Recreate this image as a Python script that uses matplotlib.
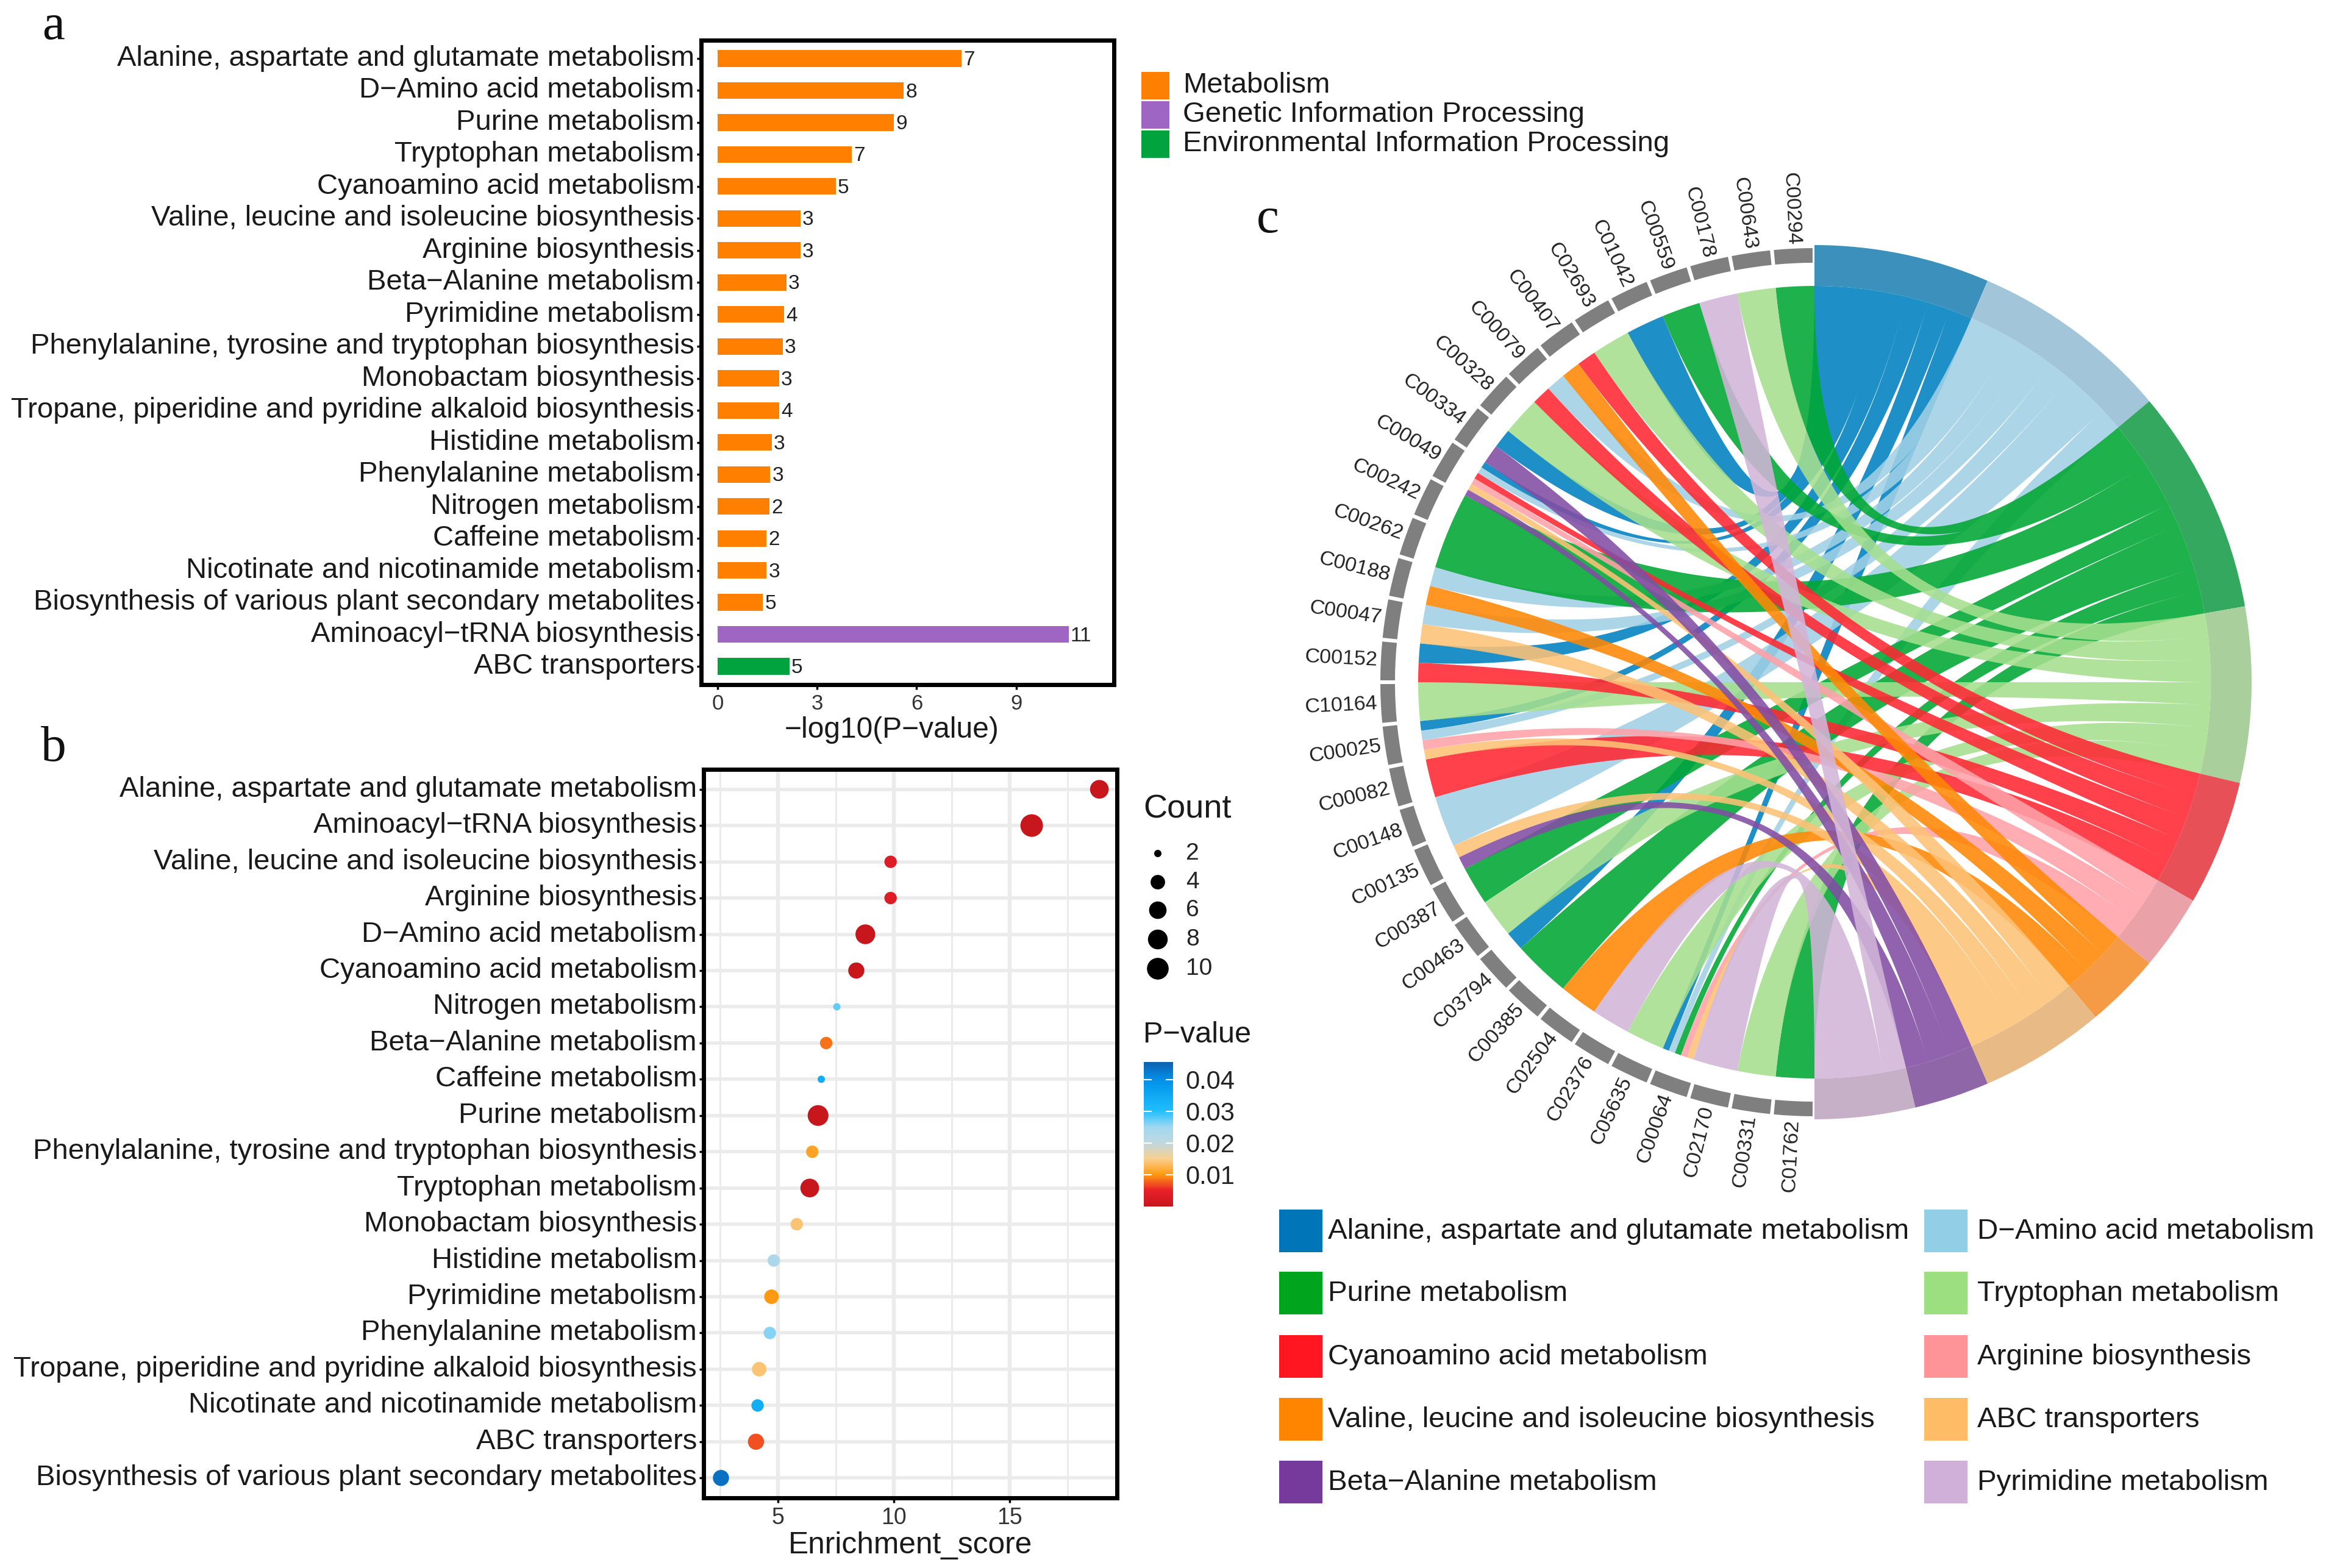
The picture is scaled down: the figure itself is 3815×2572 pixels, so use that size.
import numpy as np
import matplotlib
matplotlib.use('Agg')
import matplotlib.pyplot as plt
from matplotlib.cm import ScalarMappable
from matplotlib.colors import LinearSegmentedColormap, Normalize
from matplotlib.patches import PathPatch, Rectangle, Wedge
from matplotlib.path import Path

plt.rcParams['font.family'] = ['Liberation Sans', 'DejaVu Sans']

W, H = 3815, 2572

# panel a
bar_names = ['Alanine, aspartate and glutamate metabolism', 'D\u2212Amino acid metabolism',
             'Purine metabolism', 'Tryptophan metabolism', 'Cyanoamino acid metabolism',
             'Valine, leucine and isoleucine biosynthesis', 'Arginine biosynthesis',
             'Beta\u2212Alanine metabolism', 'Pyrimidine metabolism',
             'Phenylalanine, tyrosine and tryptophan biosynthesis', 'Monobactam biosynthesis',
             'Tropane, piperidine and pyridine alkaloid biosynthesis', 'Histidine metabolism',
             'Phenylalanine metabolism', 'Nitrogen metabolism', 'Caffeine metabolism',
             'Nicotinate and nicotinamide metabolism',
             'Biosynthesis of various plant secondary metabolites',
             'Aminoacyl\u2212tRNA biosynthesis', 'ABC transporters']
bar_values = [7.35, 5.61, 5.32, 4.05, 3.56, 2.49, 2.49, 2.07, 2.00, 1.96,
              1.85, 1.85, 1.63, 1.58, 1.56, 1.47, 1.47, 1.36, 10.58, 2.16]
bar_counts = [7, 8, 9, 7, 5, 3, 3, 3, 4, 3, 3, 4, 3, 3, 2, 2, 3, 5, 11, 5]
bar_classes = ['Metabolism'] * 18 + ['Genetic Information Processing', 'Environmental Information Processing']
class_colors = {'Metabolism': '#FF8000',
                'Genetic Information Processing': '#9E66C2',
                'Environmental Information Processing': '#00A33E'}

# panel b
dot_names = ['Alanine, aspartate and glutamate metabolism', 'Aminoacyl\u2212tRNA biosynthesis',
             'Valine, leucine and isoleucine biosynthesis', 'Arginine biosynthesis',
             'D\u2212Amino acid metabolism', 'Cyanoamino acid metabolism', 'Nitrogen metabolism',
             'Beta\u2212Alanine metabolism', 'Caffeine metabolism', 'Purine metabolism',
             'Phenylalanine, tyrosine and tryptophan biosynthesis', 'Tryptophan metabolism',
             'Monobactam biosynthesis', 'Histidine metabolism', 'Pyrimidine metabolism',
             'Phenylalanine metabolism', 'Tropane, piperidine and pyridine alkaloid biosynthesis',
             'Nicotinate and nicotinamide metabolism', 'ABC transporters',
             'Biosynthesis of various plant secondary metabolites']
dot_scores = [18.87, 15.95, 9.86, 9.86, 8.77, 8.38, 7.54, 7.08, 6.87, 6.73,
              6.48, 6.37, 5.81, 4.82, 4.72, 4.65, 4.19, 4.12, 4.05, 2.54]
dot_counts = [7, 11, 3, 3, 8, 5, 2, 3, 2, 9, 3, 7, 3, 3, 4, 3, 4, 3, 5, 5]
dot_pvalues = [0.0, 0.0, 0.0032, 0.0032, 0.0, 0.0003, 0.0275, 0.0085, 0.034, 0.0,
               0.011, 0.0001, 0.014, 0.023, 0.010, 0.026, 0.014, 0.034, 0.007, 0.0437]
count_legend = [2, 4, 6, 8, 10]

# panel c
pathway_keys = ['ala', 'dam', 'pur', 'trp', 'cya', 'arg', 'val', 'abc', 'bal', 'pyr']
pathway_names = ['Alanine, aspartate and glutamate metabolism', 'D\u2212Amino acid metabolism',
                 'Purine metabolism', 'Tryptophan metabolism', 'Cyanoamino acid metabolism',
                 'Arginine biosynthesis', 'Valine, leucine and isoleucine biosynthesis',
                 'ABC transporters', 'Beta\u2212Alanine metabolism', 'Pyrimidine metabolism']
legend_colors = ['#0075B8', '#92CFE6', '#00A51E', '#9CDF80', '#FF1620',
                 '#FF9498', '#FF8400', '#FFBC66', '#753A9C', '#D0B0D8']
ribbon_colors = ['#0081C0', '#A1D0E5', '#00A732', '#A5DF8F', '#FF2732',
                 '#FFA1A8', '#FF8805', '#FDC276', '#824DA4', '#D2B5D9']
band_colors = ['#3C91BC', '#A2C5D9', '#34A85E', '#A9CF9C', '#E85058',
               '#EAA2A8', '#F59A45', '#E8BB86', '#8F66A8', '#C5B0C8']
# compounds from the bottom of the circle going clockwise, with the pathways each one links to
compound_ids = ['C01762', 'C00331', 'C02170', 'C00064', 'C05635', 'C02376', 'C02504', 'C00385',
                'C03794', 'C00463', 'C00387', 'C00135', 'C00148', 'C00082', 'C00025', 'C10164',
                'C00152', 'C00047', 'C00188', 'C00262', 'C00242', 'C00049', 'C00334', 'C00328',
                'C00079', 'C00407', 'C02693', 'C01042', 'C00559', 'C00178', 'C00643', 'C00294']
compound_links = [['pur'], ['trp'], ['pyr'], ['pyr', 'abc', 'arg', 'pur', 'dam', 'ala'], ['trp'], ['pyr'],
                  ['val'], ['pur'], ['pur', 'ala'], ['trp'], ['pur'], ['bal', 'abc', 'dam'], ['dam'],
                  ['cya'], ['abc', 'arg', 'dam', 'ala'], ['trp'], ['cya', 'ala'], ['abc', 'dam'],
                  ['val', 'dam'], ['pur'], ['pur'], ['bal', 'abc', 'arg', 'cya', 'dam', 'ala'],
                  ['bal', 'ala'], ['trp'], ['cya', 'dam'], ['val', 'cya'], ['trp'], ['ala'], ['pur'],
                  ['pyr'], ['trp'], ['pur']]

fig = plt.figure(figsize=(W / 100, H / 100), dpi=100)


def px_axes(left, top, right, bottom):
    return fig.add_axes([left / W, 1 - bottom / H, (right - left) / W, (bottom - top) / H])


def dot_size(count):
    d = 12 + 25 * np.sqrt((np.asarray(count) - 2) / 9)
    return (d * 0.72) ** 2


def polar(angle, r):
    # angle is clockwise from twelve o'clock, in degrees
    a = np.radians(angle)
    return r * np.sin(a), r * np.cos(a)


def curve(a0, a1, r):
    # quadratic bezier with the control point in the centre
    t = np.linspace(0, 1, 101)
    x0, y0 = polar(a0, r)
    x1, y1 = polar(a1, r)
    return np.column_stack([(1 - t) ** 2 * x0 + t ** 2 * x1, (1 - t) ** 2 * y0 + t ** 2 * y1])


def arc(a0, a1, r):
    x, y = polar(np.linspace(a0, a1, 12), r)
    return np.column_stack([x, y])


def row_labels(axis, names, rows):
    # row names drawn by hand so their height can be set against the tick
    axis.set_yticks(rows)
    axis.set_yticklabels([])
    for y, name in zip(rows, names):
        axis.annotate(name, xy=(0, y), xycoords=axis.get_yaxis_transform(), xytext=(-11, 0),
                      textcoords='offset pixels', ha='right', va='center', fontsize=34,
                      color='#1a1a1a', annotation_clip=False)


# overlay in pixel coordinates for legends and letters
over = fig.add_axes([0, 0, 1, 1])
over.set_xlim(0, W)
over.set_ylim(H, 0)
over.axis('off')

# a: bars
ax = px_axes(1150, 66, 1827, 1123)
ypos = np.arange(len(bar_names))
ax.barh(ypos, bar_values, height=0.52, color=[class_colors[c] for c in bar_classes])
for y, v, c in zip(ypos, bar_values, bar_counts):
    ax.text(v + 0.06, y + 0.05, str(c), ha='left', va='center', fontsize=24, color='#222222')
ax.set_xlim(-0.5, 11.95)
ax.set_ylim(len(bar_names) - 0.43, -0.57)
row_labels(ax, bar_names, ypos)
ax.set_xticks([0, 3, 6, 9])
ax.tick_params(axis='x', labelsize=25, length=6, width=2.5, pad=5, labelcolor='#333333')
ax.tick_params(axis='y', length=5, width=2.5, pad=3)
ax.set_xlabel('\u2212log10(P\u2212value)', fontsize=34.5, labelpad=3, color='#1a1a1a')
ax.xaxis.label.set_x(0.461)
for s in ax.spines.values():
    s.set_linewidth(5)

# a: class legend
for y0, name in zip([118, 166, 214], class_colors):
    over.add_patch(Rectangle((1872, y0), 46, 45, color=class_colors[name], lw=0))
    over.text(1940, y0 + 22, name, fontsize=34, va='center', color='#1a1a1a')

# b: dots
bx = px_axes(1154, 1262, 1832, 2457)
ypos = np.arange(len(dot_names))
cmap = LinearSegmentedColormap.from_list('pval', [
    (0.0, '#C8161D'), (0.11, '#E8202A'), (0.22, '#FF9A10'), (0.33, '#F8D090'),
    (0.44, '#C0D8E0'), (0.55, '#A0D8F0'), (0.66, '#20C0FF'), (0.88, '#0090E8'), (1.0, '#1060B0')])
norm = Normalize(0, 0.0455)
bx.set_axisbelow(True)
bx.set_xticks([5, 10, 15])
bx.set_xticks([2.5, 7.5, 12.5, 17.5], minor=True)
bx.grid(True, which='major', axis='x', color='#EBEBEB', lw=4.6)
bx.grid(True, which='major', axis='y', color='#EBEBEB', lw=4)
bx.grid(True, which='minor', axis='x', color='#EBEBEB', lw=2.2)
bx.scatter(dot_scores, ypos, s=dot_size(dot_counts), c=dot_pvalues, cmap=cmap, norm=norm, lw=0, zorder=3)
bx.set_xlim(1.79, 19.63)
bx.set_ylim(len(dot_names) - 0.45, -0.55)
row_labels(bx, dot_names, ypos)
bx.tick_params(axis='x', which='major', labelsize=27, length=6, width=2.5, pad=5, labelcolor='#333333')
bx.tick_params(axis='x', which='minor', length=0)
bx.tick_params(axis='y', length=5, width=2.5, pad=3)
bx.set_xlabel('Enrichment_score', fontsize=35.7, labelpad=3, color='#1a1a1a')
for s in bx.spines.values():
    s.set_linewidth(5)

# b: size legend and colour bar
over.text(1875, 1328, 'Count', fontsize=39, va='center', color='#1a1a1a')
legend_y = [1400, 1447, 1493, 1541, 1589]
over.scatter([1899] * len(count_legend), legend_y, s=dot_size(count_legend), c='black', lw=0)
for y, c in zip(legend_y, count_legend):
    over.text(1945, y, str(c), fontsize=28, va='center', color='#222222')
over.text(1875, 1697, 'P\u2212value', fontsize=35, va='center', color='#1a1a1a')
cax = px_axes(1876, 1742, 1924, 1979)
cb = fig.colorbar(ScalarMappable(norm=norm, cmap=cmap), cax=cax)
cb.outline.set_visible(False)
cb.set_ticks([0.01, 0.02, 0.03, 0.04])
cb.set_ticklabels(['0.01', '0.02', '0.03', '0.04'])
cb.ax.tick_params(labelsize=30, length=9, width=1.5, color='white', direction='in',
                  left=True, right=True, pad=15, labelcolor='#222222')

# c: chord diagram, one data unit is one pixel
R_OUT, R_IN, R_BLOCK_OUT, R_BLOCK_IN = 717, 650, 712, 688
cx = px_axes(2976 - 880, 1119 - 880, 2976 + 880, 1119 + 880)
cx.set_xlim(-880, 880)
cx.set_ylim(-880, 880)
cx.axis('off')

totals = [sum(k in links for links in compound_links) for k in pathway_keys]
unit = 180 / sum(totals)
starts = np.concatenate([[0], np.cumsum(totals)[:-1]]) * unit
block = 180 / len(compound_ids)

# left end of every ribbon, per pathway, highest on the circle first so ribbons do not twist
ends = {k: [] for k in pathway_keys}
for i, links in enumerate(compound_links):
    step = block / len(links)
    for j, key in enumerate(links):
        b0 = 180 + i * block + j * step
        ends[key].append((b0, b0 + step))

for i, key in enumerate(pathway_keys):
    a0 = starts[i]
    a1 = a0 + totals[i] * unit
    cx.add_patch(Wedge((0, 0), R_OUT, 90 - a1, 90 - a0, width=R_OUT - R_IN, color=band_colors[i], lw=0))
    # one compound path per pathway, its own ribbons do not darken each other
    paths = []
    for n, (b0, b1) in enumerate(sorted(ends[key], reverse=True)):
        s0 = a0 + n * unit
        s1 = s0 + unit
        pts = np.vstack([curve(s0, b1, R_IN), arc(b1, b0, R_IN), curve(b0, s1, R_IN), arc(s1, s0, R_IN)])
        paths.append(Path(np.vstack([pts, pts[:1]]), closed=True))
    cx.add_patch(PathPatch(Path.make_compound_path(*paths), facecolor=ribbon_colors[i],
                           edgecolor='none', alpha=0.88))

for i, name in enumerate(compound_ids):
    b0 = 180 + i * block
    cx.add_patch(Wedge((0, 0), R_BLOCK_OUT, 90 - (b0 + block - 0.25), 90 - (b0 + 0.25),
                       width=R_BLOCK_OUT - R_BLOCK_IN, color='#7F7F7F', lw=0))
    mid = b0 + block / 2
    x, y = polar(mid, R_BLOCK_OUT + 6)
    cx.text(x, y, name, fontsize=24.5, color='#222222', ha='right', va='center',
            rotation=(90 - mid) - 180, rotation_mode='anchor')

# c: pathway legend, filled by rows
rows_y = [1984, 2086, 2190, 2293, 2396]
for i, name in enumerate(pathway_names):
    y0 = rows_y[i // 2]
    x0 = 2098 if i % 2 == 0 else 3156
    over.add_patch(Rectangle((x0, y0), 71, 70, color=legend_colors[i], lw=0))
    over.text(x0 + (80 if i % 2 == 0 else 87), y0 + 36, name, fontsize=34.2, va='center', color='#1a1a1a')

# panel letters
for x, y, letter in [(88, 44, 'a'), (88, 1228, 'b'), (2079, 361, 'c')]:
    over.text(x, y, letter, family=['Liberation Serif'], fontsize=60, ha='center', va='center', color='#111111')

fig.savefig('out.png', dpi=100)
